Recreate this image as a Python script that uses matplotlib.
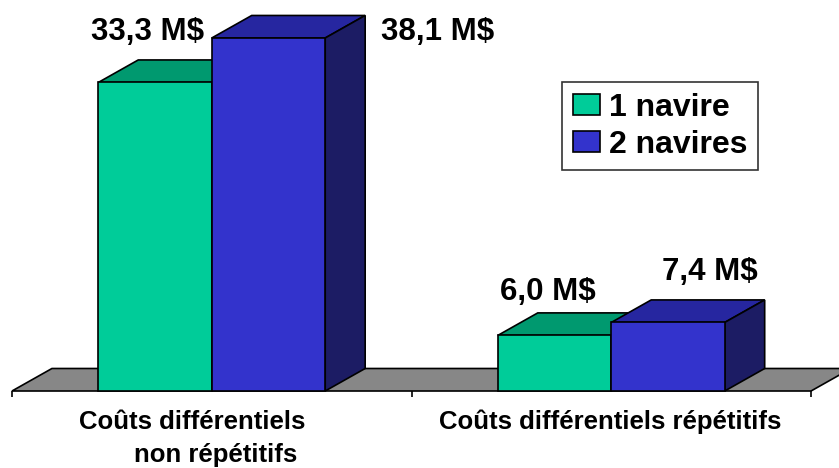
import matplotlib.pyplot as plt
from matplotlib.patches import Polygon, Patch

plt.rcParams['font.family'] = ['Liberation Sans', 'DejaVu Sans']
plt.rcParams['font.weight'] = 'bold'

# données (M$)
categories = ['Coûts différentiels\nnon répétitifs', 'Coûts différentiels répétitifs']
series = ['1 navire', '2 navires']
one_ship = [33.3, 6.0]
two_ships = [38.1, 7.4]
value_labels = [['33,3 M$', '6,0 M$'], ['38,1 M$', '7,4 M$']]

front_colors = ['#00CC99', '#3333CC']
top_colors = ['#00996F', '#2626A0']
side_colors = ['#006B50', '#1C1C64']

# géométrie pseudo-3D
bar_w = 0.284
dx, dy = 0.1, 2.43
label_dx = [[-0.018, -0.016], [0.424, 0.105]]
label_dy = [[5.45, 4.69], [0.65, 5.44]]
cat_line_dx = [[-0.05, 0.01], [-0.003]]

fig = plt.figure(figsize=(8.39, 4.68), dpi=100)
ax = fig.add_axes([0, 0, 1, 1])
ax.set_xlim(-0.530, 1.570)
ax.set_ylim(-8.31, 42.2)
ax.axis('off')

# sol
floor = Polygon([(-0.5, 0), (1.5, 0), (1.5 + dx, dy), (-0.5 + dx, dy)],
                closed=True, fc='#878787', ec='black', lw=1.2, zorder=1)
ax.add_patch(floor)
ax.vlines([-0.5, 0.5, 1.5], -0.7, 0, color='black', lw=1.2, zorder=1)

for s, values in enumerate([one_ship, two_ships]):
    xs = [c + (s - 0.5) * bar_w for c in range(len(categories))]
    z = 2 + s
    ax.bar(xs, values, width=bar_w, color=front_colors[s], edgecolor='black',
           lw=1.2, zorder=z + 0.2)
    for c, (x, v) in enumerate(zip(xs, values)):
        x0, x1 = x - bar_w / 2, x + bar_w / 2
        top = Polygon([(x0, v), (x1, v), (x1 + dx, v + dy), (x0 + dx, v + dy)],
                      closed=True, fc=top_colors[s], ec='black', lw=1.2, zorder=z)
        side = Polygon([(x1, 0), (x1 + dx, dy), (x1 + dx, v + dy), (x1, v)],
                       closed=True, fc=side_colors[s], ec='black', lw=1.2, zorder=z)
        ax.add_patch(top)
        ax.add_patch(side)
        ax.text(x + label_dx[s][c], v + label_dy[s][c], value_labels[s][c],
                ha='center', va='center', fontsize=22.5, fontweight='bold', zorder=5)

# libellés des catégories
for c, cat in enumerate(categories):
    for i, line in enumerate(cat.split('\n')):
        ax.text(c + cat_line_dx[c][i], -3.35 - 3.56 * i, line,
                ha='center', va='center', fontsize=18.5, fontweight='bold')

handles = [Patch(facecolor=front_colors[s], edgecolor='black', lw=1.2) for s in range(2)]
leg = ax.legend(handles, series, loc='upper left',
                bbox_to_anchor=(562 / 839, 1 - 82 / 468), bbox_transform=fig.transFigure,
                fontsize=23, handlelength=0.85, handleheight=0.63, handletextpad=0.3,
                labelspacing=0.22, borderpad=0.33, borderaxespad=0, fancybox=False,
                frameon=True, edgecolor='black')
leg.get_frame().set_linewidth(1.2)

fig.savefig('out.png', dpi=100)
